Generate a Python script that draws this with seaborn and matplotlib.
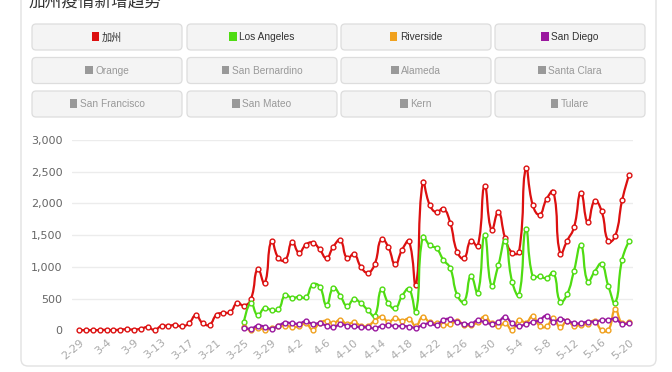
import numpy as np
import pandas as pd
import matplotlib
matplotlib.use('Agg')
import matplotlib.pyplot as plt
import seaborn as sns
from matplotlib.path import Path
from matplotlib.patches import PathPatch, FancyBboxPatch, Rectangle
from matplotlib import font_manager

# ---------------- data ----------------
dates = ['2-29', '3-1', '3-2', '3-3', '3-4', '3-5', '3-6', '3-8', '3-9', '3-10',
         '3-11', '3-12', '3-13', '3-14', '3-15', '3-16', '3-17', '3-18', '3-19', '3-20',
         '3-21', '3-22', '3-23', '3-24', '3-25', '3-26', '3-27', '3-28', '3-29', '3-30',
         '3-31', '4-1', '4-2', '4-3', '4-4', '4-5', '4-6', '4-7', '4-8', '4-9',
         '4-10', '4-11', '4-12', '4-13', '4-14', '4-15', '4-16', '4-17', '4-18', '4-19',
         '4-20', '4-21', '4-22', '4-23', '4-24', '4-25', '4-26', '4-27', '4-28', '4-29',
         '4-30', '5-1', '5-2', '5-3', '5-4', '5-5', '5-6', '5-7', '5-8', '5-9',
         '5-10', '5-11', '5-12', '5-13', '5-14', '5-15', '5-16', '5-17', '5-18', '5-19',
         '5-20']

california = [2, 3, 2, 4, 8, 2, 12, 15, 12, 25,
              50, 5, 70, 70, 85, 60, 110, 235, 110, 90,
              245, 275, 285, 430, 390, 489, 967, 741, 1413, 1140,
              1109, 1392, 1224, 1350, 1382, 1277, 1140, 1319, 1420, 1135,
              1200, 1000, 909, 1040, 1442, 1308, 1040, 1270, 1400, 712,
              2333, 1980, 1860, 1920, 1692, 1240, 1135, 1413, 1329, 2280,
              1581, 1865, 1450, 1224, 1235, 2553, 1973, 1825, 2065, 2186,
              1208, 1413, 1623, 2170, 1700, 2040, 1883, 1403, 1487, 2050,
              2448]

county_start = '3-25'
los_angeles = [137, 430, 235, 355, 318, 328, 555, 508, 530, 518,
               720, 690, 400, 672, 545, 384, 489, 426, 320, 231,
               646, 426, 347, 541, 651, 294, 1476, 1340, 1290, 1110,
               977, 560, 452, 856, 594, 1500, 700, 1030, 1415, 767,
               560, 1592, 846, 850, 825, 909, 452, 570, 938, 1340,
               767, 925, 1046, 699, 436, 1115, 1408]
riverside = [50, 5, 40, 10, 30, 60, 75, 55, 60, 110,
             10, 115, 150, 110, 165, 95, 125, 75, 70, 150,
             215, 135, 190, 150, 180, 70, 215, 125, 110, 90,
             95, 150, 90, 80, 130, 215, 110, 60, 110, 5,
             170, 120, 225, 70, 60, 190, 45, 150, 70, 90,
             100, 150, 5, 5, 330, 110, 135]
san_diego = [42, 25, 74, 58, 25, 74, 121, 110, 105, 142,
             100, 110, 74, 47, 95, 74, 63, 47, 47, 32,
             68, 79, 68, 68, 58, 42, 84, 110, 84, 163,
             179, 126, 105, 100, 158, 126, 105, 137, 210, 110,
             63, 100, 130, 160, 231, 137, 179, 150, 115, 110,
             137, 137, 158, 168, 179, 105, 110]

series_names = ['加州', 'Los Angeles', 'Riverside', 'San Diego']
series_colors = ['#dc1010', '#4fdc12', '#f0a11e', '#9a189e']
inactive_names = ['Orange', 'San Bernardino', 'Alameda', 'Santa Clara',
                  'San Francisco', 'San Mateo', 'Kern', 'Tulare']
title = '加州疫情新增趋势'

# ---------------- build table ----------------
idx = {d: i for i, d in enumerate(dates)}
s0 = idx[county_start]
frames = [pd.DataFrame({'x': np.arange(len(california)), 'v': california, 's': series_names[0]})]
for name, vals in zip(series_names[1:], [los_angeles, riverside, san_diego]):
    frames.append(pd.DataFrame({'x': np.arange(s0, s0 + len(vals)), 'v': vals, 's': name}))
df = pd.concat(frames, ignore_index=True)

sns.set_theme(style='white')
plt.rcParams['font.family'] = ['DejaVu Sans', 'Noto Sans CJK SC']

W, H = 672, 372
fig = plt.figure(figsize=(W / 100, H / 100), dpi=100)
fig.patch.set_facecolor('white')

bg = fig.add_axes([0, 0, 1, 1], zorder=0)
bg.set_xlim(0, W)
bg.set_ylim(H, 0)
bg.axis('off')

card = FancyBboxPatch((21, -30), 635, 396, boxstyle='round,pad=0,rounding_size=7',
                      fc='white', ec='#e2e2e2', lw=1.0)
bg.add_patch(card)
bg.text(29, 6, title, fontsize=12, color='#333333',
        family=['Noto Sans CJK SC', 'DejaVu Sans'], va='baseline', ha='left')

# button font
avail = {f.name for f in font_manager.fontManager.ttflist}
btn_font = 'Liberation Sans Narrow' if 'Liberation Sans Narrow' in avail else 'Liberation Sans'
btn_fs = 8.2 if btn_font == 'Liberation Sans Narrow' else 7.3

col_x = [32, 187, 341, 495]
row_y = [24, 57.5, 91]
bw, bh = 150, 26
labels = series_names + inactive_names
renderer = fig.canvas.get_renderer()
for k, lab in enumerate(labels):
    r, c = divmod(k, 4)
    x0, y0 = col_x[c], row_y[r]
    bg.add_patch(FancyBboxPatch((x0, y0), bw, bh, boxstyle='round,pad=0,rounding_size=4',
                                fc='#f4f4f4', ec='#dddddd', lw=0.9))
    active = k < 4
    sq_col = series_colors[k] if active else '#999999'
    txt_col = '#333333' if active else '#999999'
    t = bg.text(0, 0, lab, fontsize=btn_fs, color=txt_col,
                family=[btn_font, 'Noto Sans CJK SC'], va='center', ha='left')
    tw = t.get_window_extent(renderer).width
    sq = 7.5
    gap = 2.5
    total = sq + gap + tw
    sx = x0 + bw / 2 - total / 2
    cy = y0 + bh / 2
    bg.add_patch(Rectangle((sx, cy - 5.0), sq, 8.5, fc=sq_col, ec='none'))
    t.set_position((sx + sq + gap, cy + 0.3))

# ---------------- chart ----------------
x_left, x_right = 72, 633
y_top, y_zero = 140, 330.3
ax = fig.add_axes([x_left / W, 1 - y_zero / H, (x_right - x_left) / W, (y_zero - y_top) / H], zorder=1)
ax.patch.set_alpha(0)
step = 6.875
xmin = (x_left - 79) / step
xmax = (x_right - 79) / step
ax.set_xlim(xmin, xmax)
ax.set_ylim(0, 3000)
for sp in ax.spines.values():
    sp.set_visible(False)
ax.set_yticks(np.arange(0, 3001, 500))
ax.set_yticklabels([f'{v:,}' for v in range(0, 3001, 500)])
ax.yaxis.grid(True, color='#ececec', lw=1.0)
ax.xaxis.grid(False)
ax.tick_params(axis='y', length=0, pad=7, labelsize=8, labelcolor='#666666')
ticks = list(range(0, len(dates), 4))
ax.set_xticks(ticks)
ax.set_xticklabels([dates[i] for i in ticks], rotation=40, ha='right', rotation_mode='anchor')
ax.tick_params(axis='x', length=0, pad=5, labelsize=8, labelcolor='#aaaaaa')
ax.set_xlabel('')
ax.set_ylabel('')

px_per_val = (y_zero - y_top) / 3000.0


def smooth_path(xs, vs, smooth=0.5):
    P = np.column_stack([np.asarray(xs, float) * step, np.asarray(vs, float) * px_per_val])
    n = len(P)
    verts = [P[0]]
    codes = [Path.MOVETO]
    cps = []
    for i in range(n):
        if i == 0 or i == n - 1:
            cps.append((P[i], P[i]))
            continue
        v = P[i + 1] - P[i - 1]
        d0 = np.hypot(*(P[i] - P[i - 1]))
        d1 = np.hypot(*(P[i + 1] - P[i]))
        s = d0 + d1
        if s > 0:
            d0, d1 = d0 / s, d1 / s
        cps.append((P[i] - v * smooth * d0, P[i] + v * smooth * d1))
    for i in range(n - 1):
        verts += [cps[i][1], cps[i + 1][0], P[i + 1]]
        codes += [Path.CURVE4] * 3
    verts = np.array(verts)
    verts[:, 0] /= step
    verts[:, 1] /= px_per_val
    return Path(verts, codes)


for k, (name, col) in enumerate(zip(series_names, series_colors)):
    sub = df[df['s'] == name]
    path = smooth_path(sub['x'].values, sub['v'].values)
    ax.add_patch(PathPatch(path, fill=False, ec=col, lw=1.6, zorder=3 + 2 * k,
                           clip_on=False, capstyle='round', joinstyle='round'))
    sns.scatterplot(data=sub, x='x', y='v', ax=ax, color='white', edgecolor=col,
                    linewidth=1.0, s=12, zorder=4 + 2 * k, clip_on=False, legend=False)

ax.set_xlabel('')
ax.set_ylabel('')
ax.set_xlim(xmin, xmax)
ax.set_ylim(0, 3000)

fig.savefig('out.png', dpi=100, facecolor='white')
